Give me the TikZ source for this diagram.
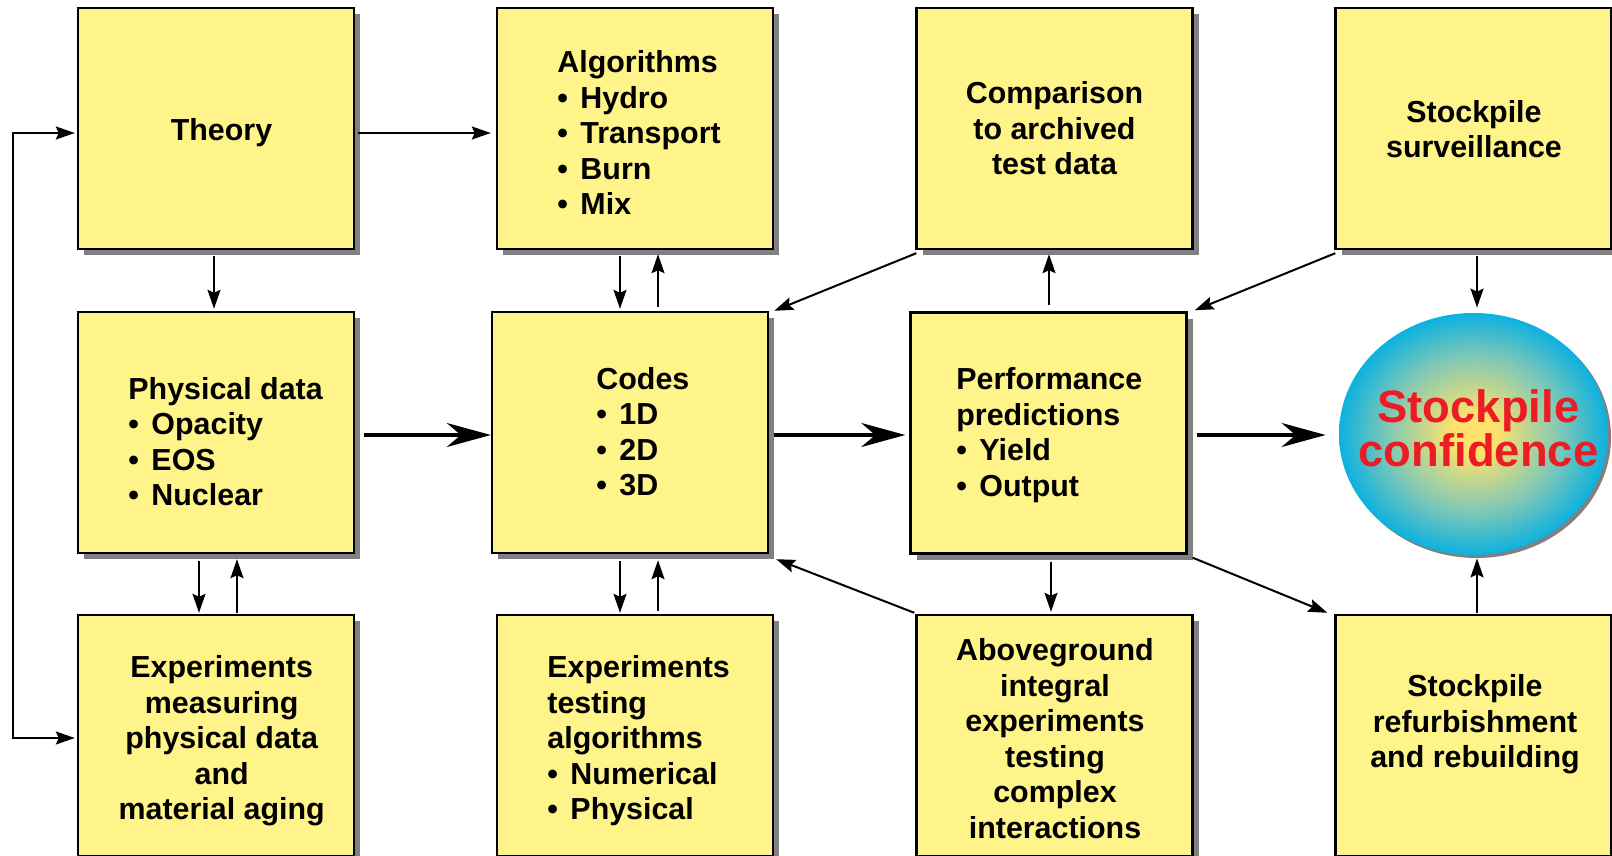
\documentclass[tikz,border=0pt]{standalone}
\usepackage{fontspec}
\setmainfont{Liberation Sans}
\usetikzlibrary{arrows.meta,calc,shadows,shapes.geometric}

\definecolor{boxyellow}{HTML}{FFF489}
\definecolor{shadowgray}{HTML}{808080}
\definecolor{confred}{HTML}{EC1C24}
\definecolor{coreyellow}{HTML}{FFE26C}
\definecolor{midgreen}{HTML}{80C8B6}
\definecolor{rimcyan}{HTML}{00AEE4}

% yellow core fading to a cyan rim
\pgfdeclareradialshading{confglow}{\pgfpoint{0bp}{0bp}}{%
  color(0bp)=(coreyellow); color(4bp)=(coreyellow); color(16bp)=(midgreen);
  color(26bp)=(rimcyan); color(50bp)=(rimcyan)}

\newcommand\bodysize{\fontsize{15.2pt}{17.75pt}\selectfont\bfseries}
\newcommand\confsize{\fontsize{22.7pt}{20.5pt}\selectfont\bfseries}
\newcommand\bul{\makebox[0.76em][l]{•}}

\tikzset{
  box/.style={draw, line width=1.2pt, fill=boxyellow,
    minimum width=138pt, minimum height=120.5pt, inner sep=0pt,
    drop shadow={shadow xshift=3pt, shadow yshift=-3pt, fill=shadowgray, opacity=1}},
  ctext/.style={inner sep=0pt, font=\bodysize, align=center},
  ltext/.style={inner sep=0pt, font=\bodysize, align=left, anchor=west},
  conn/.style={line width=1pt, -{Stealth[length=9.5pt,width=6.5pt,inset=1.5pt]}},
  bothconn/.style={line width=1pt,
    {Stealth[length=9.5pt,width=6.5pt,inset=1.5pt]}-{Stealth[length=9.5pt,width=6.5pt,inset=1.5pt]}},
  bigconn/.style={line width=1.7pt, -{Stealth[length=22pt,width=12pt,inset=7pt]}}
}

\begin{document}
\begin{tikzpicture}[x=0.5pt, y=-0.5pt]
\useasboundingbox (0,0) rectangle (1612,856);

% boxes, top row
\node[box] (theory) at (216,128.5) {};
\node[box] (algo)   at (635,128.5) {};
\node[box] (comp)   at (1054.5,128.5) {};
\node[box] (surv)   at (1473.5,128.5) {};
% middle row
\node[box] (phys)   at (216,432.5) {};
\node[box] (codes)  at (630,432.5) {};
\node[box] (perf)   at (1048.5,433) {};
% bottom row
\node[box] (expm)   at (216,735.5) {};
\node[box] (expt)   at (635,735.5) {};
\node[box] (above)  at (1054.5,735.5) {};
\node[box] (refurb) at (1473.5,735.5) {};

% the goal
\node[ellipse, minimum width=134.5pt, minimum height=121pt, inner sep=0pt,
      shading=confglow,
      drop shadow={shadow xshift=1.5pt, shadow yshift=-1.5pt, fill=shadowgray, opacity=1}]
      (conf) at (1473.5,434) {};

% texts
\node[ctext] (theoryT) at (221.5,133) {Theory};
\node[ltext] (algoT) at (557,132.6)
  {Algorithms\\\bul Hydro\\\bul Transport\\\bul Burn\\\bul Mix};
\node[ctext] (compT) at (1054.5,128.5) {Comparison\\to archived\\test data};
\node[ctext] (survT) at (1474,129) {Stockpile\\surveillance};
\node[ltext] (physT) at (128,441.5)
  {Physical data\\\bul Opacity\\\bul EOS\\\bul Nuclear};
\node[ltext] (codesT) at (596,431.5) {Codes\\\bul 1D\\\bul 2D\\\bul 3D};
\node[ltext] (perfT) at (956,435)
  {Performance\\predictions\\\bul Yield\\\bul Output};
\node[inner sep=0pt, align=center, font=\confsize, text=confred] (confT)
  at (1478.5,428) {Stockpile\\confidence};
\node[ctext] (expmT) at (221.7,741)
  {Experiments\\measuring\\physical data\\and\\material aging};
\node[ltext] (exptT) at (547,741)
  {Experiments\\testing\\algorithms\\\bul Numerical\\\bul Physical};
\node[ctext] (aboveT) at (1055,738.5)
  {Aboveground\\integral\\experiments\\testing\\complex\\interactions};
\node[ctext] (refurbT) at (1475,724.5) {Stockpile\\refurbishment\\and rebuilding};

% feedback loop from the experiments back to theory
\coordinate (loopx) at (13,435);
\draw[bothconn] ($(theory.west)+(-2,4.5)$) -| (loopx) |- ($(expm.west)+(-2,2.5)$);

% thin connectors
\draw[conn] ($(theory.east)+(3,4.5)$) -- ($(algo.west)+(-5,4.5)$);
\draw[conn] ($(theory.south)+(-2,6)$) -- ($(phys.north)+(-2,-2)$);
\draw[conn] ($(phys.south)+(-17,7)$) -- ($(expm.north)+(-17,-1)$);
\draw[conn] ($(expm.north)+(21,-1)$) -- ($(phys.south)+(21,5)$);
\draw[conn] ($(algo.south)+(-15,6)$) -- ($(codes.north)+(-10,-2)$);
\draw[conn] ($(codes.north)+(28,-4)$) -- ($(algo.south)+(23,4)$);
\draw[conn] ($(codes.south)+(-10,7)$) -- ($(expt.north)+(-15,-1)$);
\draw[conn] ($(expt.north)+(23,-3)$) -- ($(codes.south)+(28,6)$);
\draw[conn] ($(comp.south west)+(1,3)$) -- ($(codes.north east)+(5,0)$);
\draw[conn] ($(perf.north)+(0.5,-6)$) -- ($(comp.south)+(-5.5,4)$);
\draw[conn] ($(surv.south west)+(1,3)$) -- ($(perf.north east)+(7,-1)$);
\draw[conn] ($(surv.south)+(3.5,6)$) -- ($(conf.north)+(3.5,-5)$);
\draw[conn] ($(above.north west)+(-1,-1)$) -- ($(codes.south east)+(7,5)$);
\draw[conn] ($(perf.south)+(2.5,7)$) -- ($(above.north)+(-3.5,-2)$);
\draw[conn] ($(perf.south east)+(5,3)$) -- ($(refurb.north west)+(-7,-1)$);
\draw[conn] ($(refurb.north)+(3.5,-1)$) -- ($(conf.south)+(3.5,3)$);

% main flow
\draw[bigconn] ($(phys.east)+(9,2.5)$) -- ($(codes.west)+(0,2.5)$);
\draw[bigconn] ($(codes.east)+(5,2.5)$) -- ($(perf.west)+(-4,2)$);
\draw[bigconn] ($(perf.east)+(9,2)$) -- ($(conf.west)+(-13,1)$);
\end{tikzpicture}
\end{document}
